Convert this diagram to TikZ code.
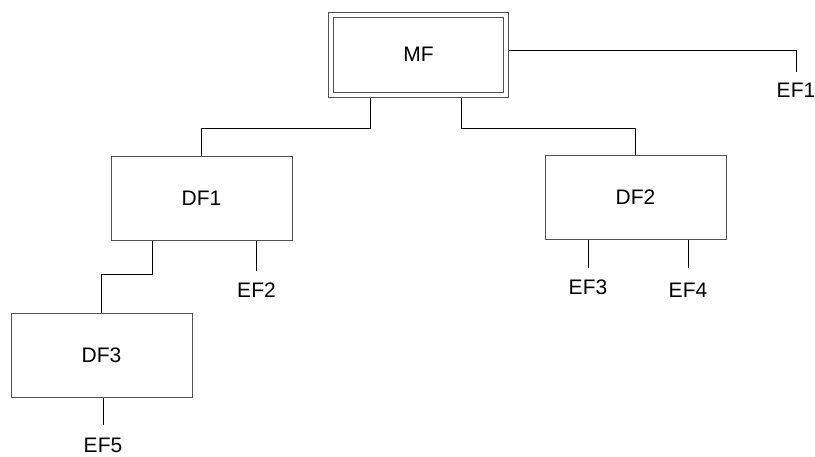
\documentclass[tikz,border=0pt]{standalone}
\usepackage{fontspec}
\setmainfont{Liberation Sans}
\usetikzlibrary{calc}
\definecolor{boxgray}{HTML}{505050}

\begin{document}
\begin{tikzpicture}[x=1pt,y=-1pt,font=\fontsize{21}{25}\selectfont,
  fbox/.style={draw=boxgray,line width=1pt,minimum width=181pt,minimum height=84pt,inner sep=0pt},
  leaf/.style={inner sep=0pt},
  link/.style={line width=1pt},
  tick/.style={line width=1pt,shorten >=12pt}]
 \useasboundingbox (0,0) rectangle (815,456);
 \node[fbox,double,double distance=4pt,outer sep=3pt,minimum width=175pt,minimum height=80pt] (mf) at (418.5,54.5) {MF};
 \node[fbox] (df1) at (201.5,198.5) {DF1};
 \node[fbox] (df2) at (635.5,197) {DF2};
 \node[fbox] (df3) at (101.5,355) {DF3};
 \node[leaf] (ef1) at (796,90.5) {EF1};
 \node[leaf] (ef2) at (256.5,290.5) {EF2};
 \node[leaf] (ef3) at (588,287.5) {EF3};
 \node[leaf] (ef4) at (688,290.5) {EF4};
 \node[leaf] (ef5) at (103,445) {EF5};
 \draw[tick,shorten >=11pt] ([yshift=4pt]mf.east) -| (ef1.north);
 \draw[link] ([xshift=-48.5pt]mf.south) -- ++(0,31) -| (df1.north);
 \draw[link] ([xshift=42.5pt]mf.south) -- ++(0,31) -| (df2.north);
 \draw[link] ([xshift=-49.5pt]df1.south) -- ++(0,33) -| (df3.north);
 \draw[tick] (df1.south -| ef2) -- (ef2.north);
 \draw[tick] (df2.south -| ef3) -- (ef3.north);
 \draw[tick,shorten >=15pt] (df2.south -| ef4) -- (ef4.north);
 \draw[tick] (df3.south -| ef5) -- (ef5.north);
\end{tikzpicture}
\end{document}
